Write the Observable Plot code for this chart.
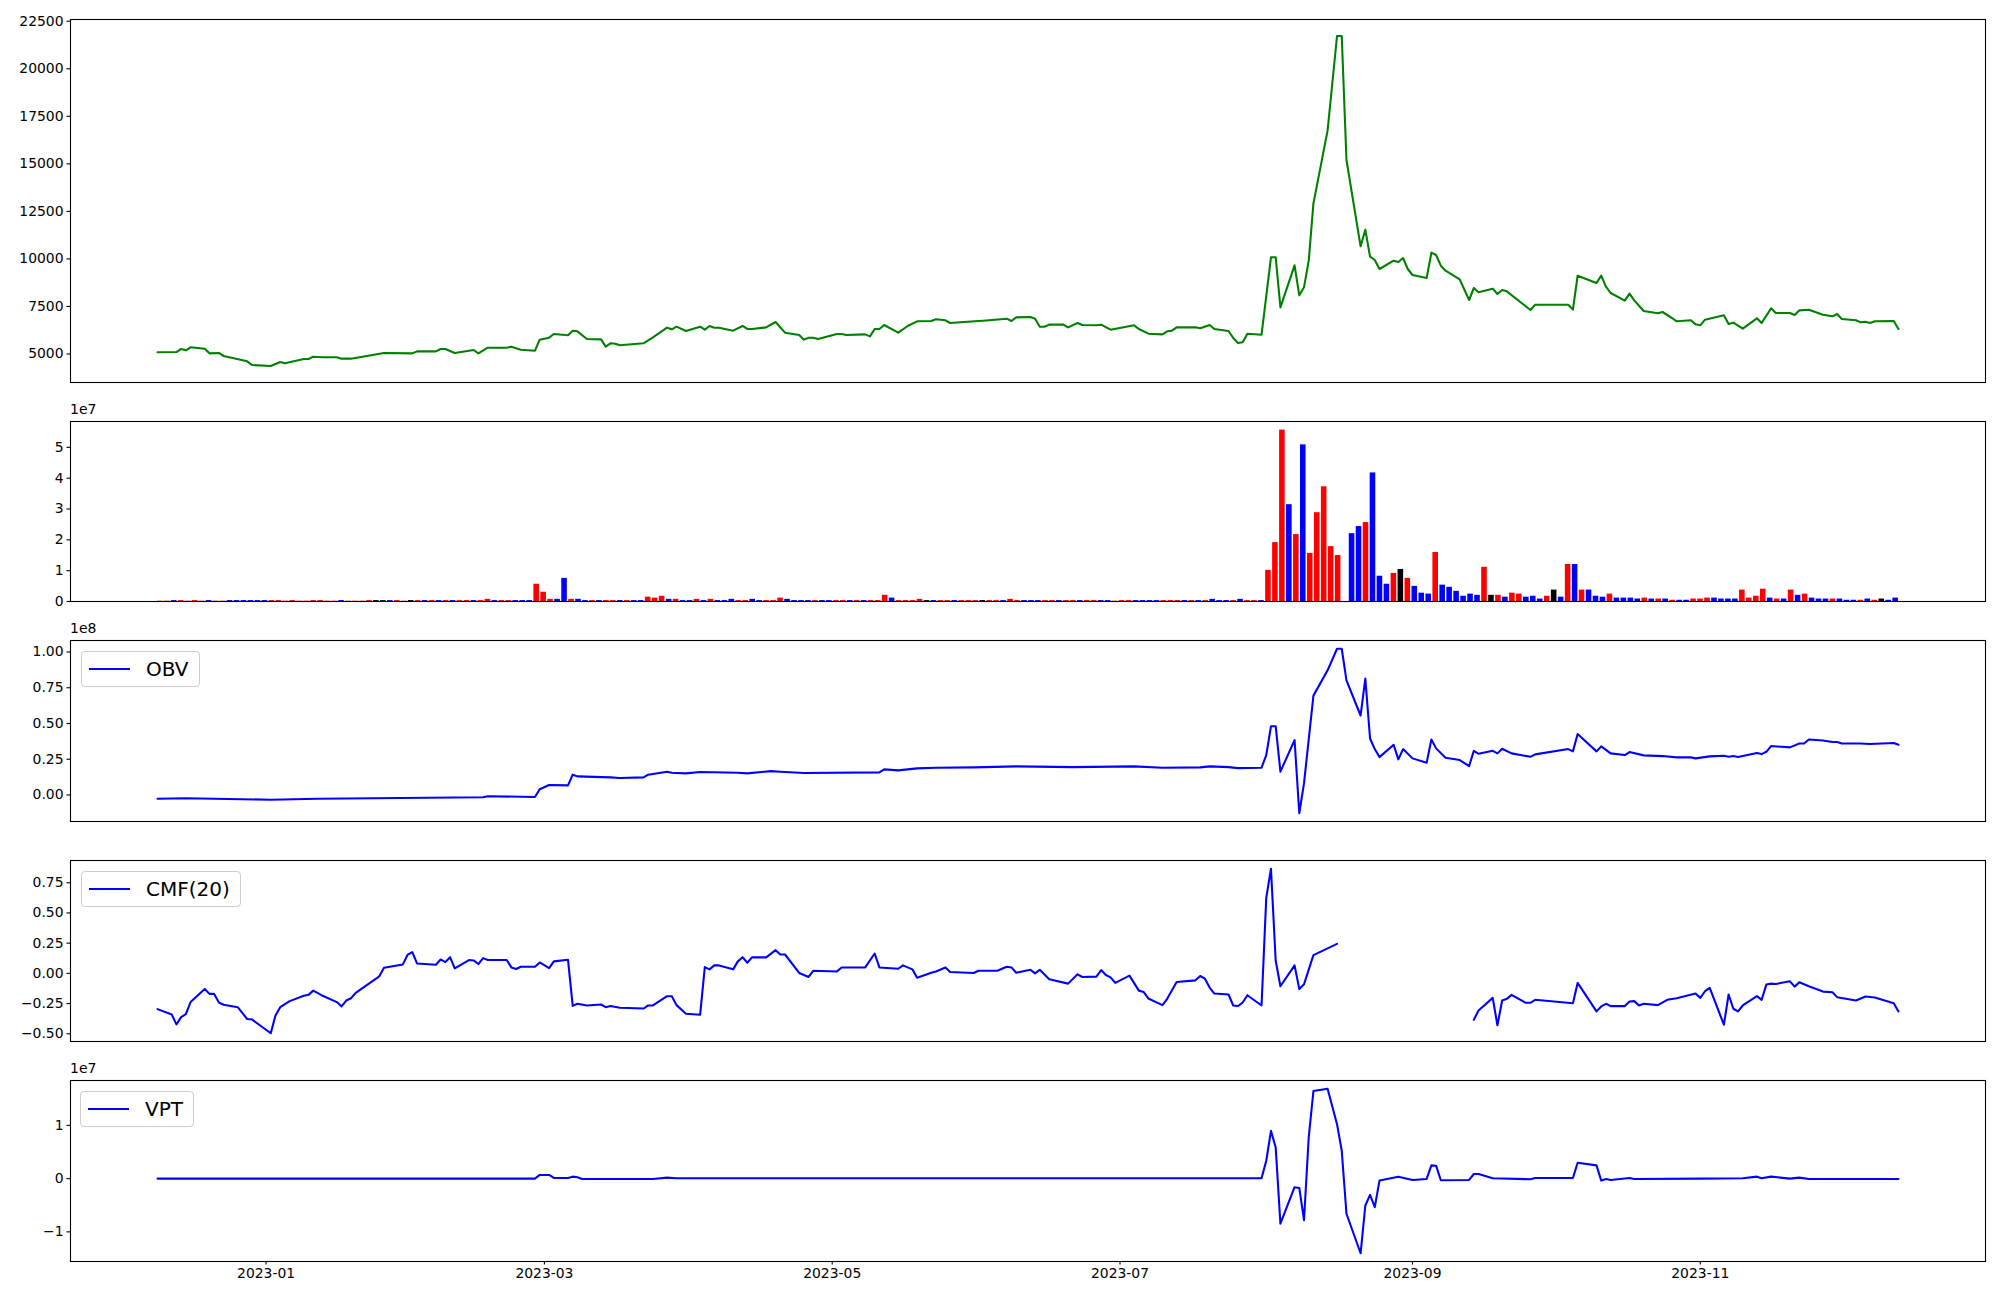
<!DOCTYPE html>
<html><head><meta charset="utf-8">
<script src="https://cdn.jsdelivr.net/npm/d3@7"></script>
<script src="https://cdn.jsdelivr.net/npm/@observablehq/plot@0.6"></script>
<style>
body{margin:0;background:#fff;}
#fig{position:relative;width:2000px;height:1300px;background:#fff;font-family:"DejaVu Sans",sans-serif;overflow:hidden;}
.panel{position:absolute;left:0;}
.legend{position:absolute;box-sizing:border-box;border:1px solid #cccccc;border-radius:4px;background:rgba(255,255,255,0.8);display:flex;align-items:center;height:36px;padding-right:10px;font-size:20px;color:#000;}
.legend svg{margin-left:6px;margin-right:15px;}
.offset{position:absolute;font-size:14px;line-height:14px;left:70px;color:#000;}
</style></head><body><div id="fig"></div><script>
// ---------------- data ----------------
// daily volume in units of 1e5 shares, one value per trading day (2022-12-09 .. 2023-12-13),
// drawn by row number like the reference's volume panel
const volume = [
  1,1,3,3,1,3,1,3,1,1,3,3,3,3,3,                                  // 2022-12
  3,3,3,1,3,1,1,3,3,1,1,3,1,1,1,3,3,3,3,3,                        // 2023-01
  1,3,3,3,3,3,3,3,3,3,3,3,7,3,3,3,3,3,3,56,                       // 2023-02
  30,7,7,75,7,7,3,3,3,3,3,3,3,3,3,14,11,17,7,7,3,3,               // 2023-03
  7,3,7,3,3,7,3,3,7,3,3,3,11,7,3,3,3,3,3,3,                       // 2023-04
  3,3,3,3,3,3,3,20,11,3,3,3,7,3,3,3,3,3,3,3,                      // 2023-05
  3,3,3,3,3,7,3,3,3,3,3,3,3,3,3,3,3,3,3,3,1,                      // 2023-06
  3,3,3,3,3,3,3,3,3,3,3,3,3,7,3,3,3,7,3,3,3,                      // 2023-07
  101,191,556,314,217,508,156,288,372,178,149,0,220,243,256,417,82,56,91,104,75,49, // 2023-08
  27,24,159,53,46,33,17,24,20,111,20,20,14,27,24,14,17,8,17,      // 2023-09
  37,14,120,120,37,37,17,14,24,11,11,11,8,11,8,8,8,4,4,           // 2023-10
  4,8,8,11,11,8,8,8,37,11,17,40,11,8,8,37,20,24,11,8,8,8,         // 2023-11
  8,4,4,4,8,4,8,4,11                                              // 2023-12
];
// bar colour per trading day: r = red, b = blue, k = black
const volColor = [
  "rrbrrrrbrrbbbbb", "brrrrrrrrrrbrrrrkkbr", "rkrbrbrbrrbrrbrrbbbr",
  "rrbbrbbrbrrbrbbrrrbrbb", "rbrbbbrrbbrrrbbbbrbb", "rrbrbrrrbrrrrkbrrbrr",
  "rkrrbrrbbbrrbrrbrrbbr", "rrbbbbrrrbrbrbbbrbrrb", "rrrbrbrrrrrrbbrbbbrkrb",
  "bbrbbbbbbrkrbrrbbbr", "kbrbrbbbrbbbbrbrbrb", "brrrbbbbrrrrbrbrbrbbbr", "bbbrbrkbb"
].join("");

const price = [
["2022-12-09",5088],["2022-12-13",5105],["2022-12-14",5263],["2022-12-15",5193],["2022-12-16",5351],["2022-12-19",5280],["2022-12-20",5035],["2022-12-22",5053],["2022-12-23",4895],["2022-12-28",4614],["2022-12-29",4421],
["2023-01-02",4369],["2023-01-04",4579],["2023-01-05",4509],["2023-01-09",4737],["2023-01-10",4737],["2023-01-11",4860],["2023-01-13",4825],["2023-01-16",4825],["2023-01-17",4755],["2023-01-19",4755],["2023-01-26",5053],
["2023-02-01",5035],["2023-02-02",5140],["2023-02-06",5140],["2023-02-07",5263],["2023-02-08",5263],["2023-02-10",5053],["2023-02-14",5210],["2023-02-15",5035],["2023-02-17",5333],["2023-02-21",5333],["2023-02-22",5386],["2023-02-24",5228],["2023-02-27",5175],["2023-02-28",5754],
["2023-03-02",5859],["2023-03-03",6052],["2023-03-06",5982],["2023-03-07",6227],["2023-03-08",6192],["2023-03-10",5789],["2023-03-13",5771],["2023-03-14",5386],["2023-03-15",5561],["2023-03-16",5543],["2023-03-17",5456],["2023-03-22",5561],["2023-03-24",5877],["2023-03-27",6385],["2023-03-28",6297],["2023-03-29",6437],["2023-03-31",6210],
["2023-04-03",6437],["2023-04-04",6280],["2023-04-05",6473],["2023-04-06",6385],["2023-04-07",6385],["2023-04-10",6227],["2023-04-12",6473],["2023-04-13",6315],["2023-04-14",6315],["2023-04-17",6402],["2023-04-19",6683],["2023-04-21",6122],["2023-04-24",5999],["2023-04-25",5754],["2023-04-26",5859],["2023-04-27",5859],["2023-04-28",5789],
["2023-05-02",6052],["2023-05-03",6052],["2023-05-04",5999],["2023-05-08",6034],["2023-05-09",5929],["2023-05-10",6315],["2023-05-11",6315],["2023-05-12",6525],["2023-05-15",6122],["2023-05-17",6473],["2023-05-19",6718],["2023-05-22",6735],["2023-05-23",6823],["2023-05-25",6771],["2023-05-26",6630],
["2023-06-01",6735],["2023-06-02",6753],["2023-06-07",6858],["2023-06-08",6735],["2023-06-09",6928],["2023-06-12",6946],["2023-06-13",6858],["2023-06-14",6437],["2023-06-15",6437],["2023-06-16",6543],["2023-06-19",6543],["2023-06-20",6402],["2023-06-22",6630],["2023-06-23",6525],["2023-06-26",6508],["2023-06-27",6543],["2023-06-29",6280],
["2023-07-04",6508],["2023-07-05",6315],["2023-07-07",6069],["2023-07-10",6034],["2023-07-11",6192],["2023-07-12",6227],["2023-07-13",6402],["2023-07-17",6402],["2023-07-18",6350],["2023-07-20",6525],["2023-07-21",6315],["2023-07-24",6210],["2023-07-25",5841],["2023-07-26",5578],["2023-07-27",5614],["2023-07-28",6069],["2023-07-31",6017],
["2023-08-01",8050],["2023-08-02",10084],["2023-08-03",10084],["2023-08-04",7454],["2023-08-07",9663],["2023-08-08",8085],["2023-08-09",8506],["2023-08-10",9908],["2023-08-11",12924],["2023-08-14",16745],["2023-08-16",21724],["2023-08-17",21724],["2023-08-18",15202],["2023-08-21",10662],["2023-08-22",11539],["2023-08-23",10119],["2023-08-24",9943],["2023-08-25",9470],["2023-08-28",9908],["2023-08-29",9838],["2023-08-30",10049],["2023-08-31",9470],
["2023-09-01",9155],["2023-09-04",8997],["2023-09-05",10329],["2023-09-06",10206],["2023-09-07",9645],["2023-09-08",9383],["2023-09-11",8927],["2023-09-13",7840],["2023-09-14",8471],["2023-09-15",8243],["2023-09-18",8436],["2023-09-19",8155],["2023-09-20",8366],["2023-09-21",8296],["2023-09-26",7314],["2023-09-27",7594],
["2023-10-04",7594],["2023-10-05",7332],["2023-10-06",9120],["2023-10-10",8734],["2023-10-11",9120],["2023-10-12",8541],["2023-10-13",8208],["2023-10-16",7805],["2023-10-17",8173],["2023-10-18",7822],["2023-10-20",7261],["2023-10-23",7139],["2023-10-24",7209],["2023-10-26",6893],["2023-10-27",6718],["2023-10-30",6771],["2023-10-31",6560],
["2023-11-01",6508],["2023-11-02",6806],["2023-11-06",7033],["2023-11-07",6578],["2023-11-08",6648],["2023-11-10",6332],["2023-11-13",6876],["2023-11-14",6630],["2023-11-16",7402],["2023-11-17",7156],["2023-11-20",7156],["2023-11-21",7051],["2023-11-22",7296],["2023-11-24",7331],["2023-11-27",7069],["2023-11-29",6981],["2023-11-30",7104],
["2023-12-01",6841],["2023-12-04",6771],["2023-12-05",6665],["2023-12-06",6700],["2023-12-07",6630],["2023-12-08",6718],["2023-12-12",6735],["2023-12-13",6315]
];

// OBV in units of 1e8
const obv = [
["2022-12-09",-0.026],["2022-12-15",-0.023],["2023-01-02",-0.033],["2023-01-12",-0.026],["2023-02-16",-0.016],["2023-02-17",-0.009],["2023-02-27",-0.014],["2023-02-28",0.040],["2023-03-02",0.070],["2023-03-06",0.067],["2023-03-07",0.142],["2023-03-08",0.130],["2023-03-15",0.123],["2023-03-17",0.119],["2023-03-22",0.123],["2023-03-23",0.142],["2023-03-27",0.163],["2023-03-28",0.156],["2023-03-29",0.154],["2023-03-31",0.151],
["2023-04-03",0.161],["2023-04-11",0.156],["2023-04-13",0.151],["2023-04-18",0.167],["2023-04-20",0.163],["2023-04-25",0.154],["2023-05-11",0.158],["2023-05-12",0.179],["2023-05-15",0.172],["2023-05-19",0.186],["2023-05-23",0.191],["2023-05-31",0.193],["2023-06-09",0.200],["2023-06-21",0.195],["2023-07-04",0.200],["2023-07-10",0.191],["2023-07-18",0.193],["2023-07-20",0.200],["2023-07-24",0.195],["2023-07-26",0.188],["2023-07-31",0.191],
["2023-08-01",0.279],["2023-08-02",0.481],["2023-08-03",0.481],["2023-08-04",0.163],["2023-08-07",0.384],["2023-08-08",-0.128],["2023-08-09",0.081],["2023-08-11",0.695],["2023-08-14",0.872],["2023-08-16",1.023],["2023-08-17",1.023],["2023-08-18",0.802],["2023-08-21",0.556],["2023-08-22",0.814],["2023-08-23",0.395],["2023-08-24",0.321],["2023-08-25",0.265],["2023-08-28",0.351],["2023-08-29",0.249],["2023-08-30",0.321],
["2023-09-01",0.256],["2023-09-04",0.226],["2023-09-05",0.388],["2023-09-06",0.326],["2023-09-08",0.260],["2023-09-11",0.244],["2023-09-13",0.202],["2023-09-14",0.309],["2023-09-15",0.288],["2023-09-18",0.309],["2023-09-19",0.291],["2023-09-20",0.323],["2023-09-22",0.291],["2023-09-26",0.267],["2023-09-27",0.284],
["2023-10-04",0.321],["2023-10-05",0.305],["2023-10-06",0.426],["2023-10-10",0.305],["2023-10-11",0.340],["2023-10-13",0.291],["2023-10-16",0.279],["2023-10-17",0.300],["2023-10-20",0.277],["2023-10-24",0.272],["2023-10-27",0.263],["2023-10-30",0.263],["2023-10-31",0.256],
["2023-11-03",0.270],["2023-11-06",0.274],["2023-11-07",0.267],["2023-11-08",0.272],["2023-11-09",0.265],["2023-11-13",0.293],["2023-11-14",0.286],["2023-11-15",0.302],["2023-11-16",0.342],["2023-11-20",0.333],["2023-11-22",0.360],["2023-11-23",0.360],["2023-11-24",0.388],["2023-11-27",0.381],["2023-11-29",0.370],["2023-11-30",0.370],
["2023-12-01",0.360],["2023-12-05",0.360],["2023-12-07",0.356],["2023-12-12",0.363],["2023-12-13",0.351]
];

// Chaikin money flow (20); NaN marks the undefined stretch
const cmf = [
["2022-12-09",-0.296],["2022-12-12",-0.340],["2022-12-13",-0.422],["2022-12-14",-0.362],["2022-12-15",-0.337],["2022-12-16",-0.238],["2022-12-19",-0.129],["2022-12-20",-0.170],["2022-12-21",-0.170],["2022-12-22",-0.241],["2022-12-23",-0.260],["2022-12-26",-0.280],["2022-12-27",-0.329],["2022-12-28",-0.378],["2022-12-29",-0.381],
["2023-01-02",-0.496],["2023-01-03",-0.348],["2023-01-04",-0.280],["2023-01-06",-0.230],["2023-01-09",-0.186],["2023-01-10",-0.178],["2023-01-11",-0.143],["2023-01-12",-0.164],["2023-01-13",-0.186],["2023-01-16",-0.238],["2023-01-17",-0.274],["2023-01-18",-0.225],["2023-01-19",-0.206],["2023-01-20",-0.162],["2023-01-25",-0.025],["2023-01-26",0.047],["2023-01-30",0.074],["2023-01-31",0.154],
["2023-02-01",0.175],["2023-02-02",0.082],["2023-02-06",0.071],["2023-02-07",0.115],["2023-02-08",0.093],["2023-02-09",0.134],["2023-02-10",0.041],["2023-02-13",0.110],["2023-02-14",0.107],["2023-02-15",0.077],["2023-02-16",0.126],["2023-02-17",0.110],["2023-02-21",0.110],["2023-02-22",0.049],["2023-02-23",0.036],["2023-02-24",0.055],["2023-02-27",0.055],["2023-02-28",0.090],
["2023-03-02",0.044],["2023-03-03",0.099],["2023-03-06",0.112],["2023-03-07",-0.269],["2023-03-08",-0.252],["2023-03-10",-0.266],["2023-03-13",-0.258],["2023-03-14",-0.280],["2023-03-15",-0.271],["2023-03-17",-0.285],["2023-03-22",-0.291],["2023-03-23",-0.266],["2023-03-24",-0.266],["2023-03-27",-0.189],["2023-03-28",-0.189],["2023-03-29",-0.263],["2023-03-31",-0.334],
["2023-04-03",-0.343],["2023-04-04",0.052],["2023-04-05",0.033],["2023-04-06",0.066],["2023-04-07",0.066],["2023-04-10",0.033],["2023-04-11",0.099],["2023-04-12",0.134],["2023-04-13",0.088],["2023-04-14",0.132],["2023-04-17",0.132],["2023-04-19",0.192],["2023-04-20",0.156],["2023-04-21",0.156],["2023-04-24",0.003],["2023-04-26",-0.030],["2023-04-27",0.022],
["2023-05-02",0.016],["2023-05-03",0.049],["2023-05-08",0.049],["2023-05-10",0.164],["2023-05-11",0.049],["2023-05-15",0.038],["2023-05-16",0.066],["2023-05-18",0.033],["2023-05-19",-0.036],["2023-05-22",0.005],["2023-05-23",0.016],["2023-05-25",0.049],["2023-05-26",0.011],["2023-05-31",0.003],
["2023-06-01",0.022],["2023-06-05",0.022],["2023-06-07",0.055],["2023-06-08",0.049],["2023-06-09",0.005],["2023-06-12",0.030],["2023-06-13",0.000],["2023-06-14",0.030],["2023-06-16",-0.049],["2023-06-20",-0.085],["2023-06-22",-0.008],["2023-06-23",-0.030],["2023-06-26",-0.027],["2023-06-27",0.027],["2023-06-28",-0.014],["2023-06-29",-0.033],["2023-06-30",-0.079],
["2023-07-03",-0.019],["2023-07-05",-0.143],["2023-07-06",-0.154],["2023-07-07",-0.208],["2023-07-10",-0.263],["2023-07-11",-0.211],["2023-07-13",-0.071],["2023-07-17",-0.058],["2023-07-18",-0.022],["2023-07-19",-0.044],["2023-07-20",-0.118],["2023-07-21",-0.167],["2023-07-24",-0.175],["2023-07-25",-0.266],["2023-07-26",-0.271],["2023-07-27",-0.241],["2023-07-28",-0.181],["2023-07-31",-0.266],
["2023-08-01",0.625],["2023-08-02",0.866],["2023-08-03",0.104],["2023-08-04",-0.107],["2023-08-07",0.066],["2023-08-08",-0.129],["2023-08-09",-0.090],["2023-08-11",0.151],["2023-08-16",0.244],
["2023-08-17",NaN],
["2023-09-14",-0.384],["2023-09-15",-0.307],["2023-09-18",-0.203],["2023-09-19",-0.430],["2023-09-20",-0.225],["2023-09-21",-0.211],["2023-09-22",-0.178],["2023-09-25",-0.244],["2023-09-26",-0.244],["2023-09-27",-0.219],
["2023-10-05",-0.247],["2023-10-06",-0.079],["2023-10-10",-0.315],["2023-10-11",-0.274],["2023-10-12",-0.252],["2023-10-13",-0.271],["2023-10-16",-0.271],["2023-10-17",-0.233],["2023-10-18",-0.230],["2023-10-19",-0.266],["2023-10-20",-0.252],["2023-10-23",-0.263],["2023-10-25",-0.219],["2023-10-27",-0.206],["2023-10-31",-0.167],
["2023-11-01",-0.203],["2023-11-02",-0.148],["2023-11-03",-0.121],["2023-11-06",-0.425],["2023-11-07",-0.175],["2023-11-08",-0.293],["2023-11-09",-0.315],["2023-11-10",-0.266],["2023-11-13",-0.189],["2023-11-14",-0.219],["2023-11-15",-0.093],["2023-11-16",-0.085],["2023-11-17",-0.088],["2023-11-20",-0.066],["2023-11-21",-0.110],["2023-11-22",-0.074],["2023-11-24",-0.107],["2023-11-27",-0.151],["2023-11-29",-0.156],["2023-11-30",-0.197],
["2023-12-04",-0.225],["2023-12-06",-0.192],["2023-12-08",-0.200],["2023-12-12",-0.247],["2023-12-13",-0.315]
];

// VPT in units of 1e7
const vpt = [
["2022-12-09",0],["2023-02-27",0],["2023-02-28",0.069],["2023-03-02",0.069],["2023-03-03",0.012],["2023-03-06",0.012],["2023-03-07",0.037],["2023-03-08",0.025],["2023-03-09",-0.006],["2023-03-24",-0.006],["2023-03-27",0.019],["2023-03-29",0.006],["2023-07-31",0.006],
["2023-08-01",0.336],["2023-08-02",0.897],["2023-08-03",0.586],["2023-08-04",-0.847],["2023-08-07",-0.162],["2023-08-08",-0.175],["2023-08-09",-0.779],["2023-08-10",0.773],["2023-08-11",1.645],["2023-08-14",1.688],["2023-08-16",1.022],["2023-08-17",0.523],["2023-08-18",-0.660],["2023-08-21",-1.402],["2023-08-22",-0.505],["2023-08-23",-0.305],["2023-08-24",-0.536],["2023-08-25",-0.037],["2023-08-29",0.037],
["2023-09-01",-0.025],["2023-09-04",-0.006],["2023-09-05",0.249],["2023-09-06",0.243],["2023-09-07",-0.031],["2023-09-13",-0.025],["2023-09-14",0.087],["2023-09-15",0.087],["2023-09-18",0.006],["2023-09-26",-0.012],["2023-09-27",0.012],
["2023-10-05",0.012],["2023-10-06",0.299],["2023-10-10",0.249],["2023-10-11",-0.037],["2023-10-12",-0.006],["2023-10-13",-0.025],["2023-10-17",0.012],["2023-10-18",-0.006],
["2023-11-01",0],["2023-11-10",0.006],["2023-11-13",0.037],["2023-11-14",0.006],["2023-11-16",0.037],["2023-11-20",0],["2023-11-22",0.019],["2023-11-24",-0.006],["2023-12-13",-0.006]
];

const xTickDates = ["2023-01-01","2023-03-01","2023-05-01","2023-07-01","2023-09-01","2023-11-01"];
const priceTicks = [5000,7500,10000,12500,15000,17500,20000,22500];
const volTicks = [0,1,2,3,4,5];
const obvTicks = [0,0.25,0.5,0.75,1];
const cmfTicks = [-0.5,-0.25,0,0.25,0.5,0.75];
const vptTicks = [-1,0,1];

// ---------------- build ----------------
const parse = s => new Date(s + "T00:00:00Z");
const colorName = {r: "#ff0000", b: "#0000ff", k: "#000000"};
const volData = volume.map((v, i) => ({i, v: v / 100, c: colorName[volColor[i]] || "#000"}));
const toRows = arr => arr.map(([d, v]) => ({date: parse(d), v}));
const priceRows = toRows(price), obvRows = toRows(obv), cmfRows = toRows(cmf), vptRows = toRows(vpt);

const allDates = [...priceRows, ...obvRows, ...cmfRows, ...vptRows].map(r => r.date);
const [x0, x1] = d3.extent(allDates);
const xr = x1 - x0;
const xDomain = [new Date(+x0 - 0.05 * xr), new Date(+x1 + 0.05 * xr)];
// bar panel: positions are row numbers, limits as matplotlib's bar autoscale
const bLo = -0.4, bHi = volData.length - 1 + 0.4, bPad = 0.05 * (bHi - bLo);
const barDomain = [bLo - bPad, bHi + bPad];
const padded = rows => {
  const [lo, hi] = d3.extent(rows.filter(r => Number.isFinite(r.v)), r => r.v);
  const p = 0.05 * (hi - lo);
  return [lo - p, hi + p];
};

const fig = document.getElementById("fig");
const style = {fontFamily: "DejaVu Sans", fontSize: "13.9px", color: "#000", background: "white", overflow: "visible"};

function panel({top, height, mt, mb, x, yDomain, yTicks, yFormat, marks, showX}) {
  const p = Plot.plot({
    width: 2000, height,
    marginLeft: 70, marginRight: 15, marginTop: mt, marginBottom: mb,
    x: x || {type: "utc", domain: xDomain, axis: showX ? undefined : null},
    y: {domain: yDomain},
    color: {type: "identity"},
    style,
    marks: [
      ...marks,
      Plot.axisY({ticks: yTicks, tickFormat: yFormat, tickSize: 3.5, tickPadding: 3.5, label: null, strokeWidth: 1.1}),
      showX ? Plot.axisX({ticks: xTickDates.map(parse), tickFormat: d3.utcFormat("%Y-%m"), tickSize: 3.5, tickPadding: 3.5, label: null, strokeWidth: 1.1}) : null,
      Plot.frame({stroke: "black", strokeWidth: 1.1})
    ]
  });
  p.classList.add("panel");
  p.style.top = top + "px";
  fig.appendChild(p);
}

const lw = 2.08;
panel({top: 0, height: 400, mt: 19, mb: 18, yDomain: padded(priceRows), yTicks: priceTicks, yFormat: d3.format("d"),
  marks: [Plot.line(priceRows, {x: "date", y: "v", stroke: "#008000", strokeWidth: lw})]});

panel({top: 400, height: 220, mt: 21, mb: 19, x: {type: "linear", domain: barDomain, axis: null},
  yDomain: [0, d3.max(volData, d => d.v) * 1.05], yTicks: volTicks, yFormat: d3.format("d"),
  marks: [Plot.rect(volData, {x1: d => d.i - 0.4, x2: d => d.i + 0.4, y1: 0, y2: "v", fill: "c"})]});

panel({top: 620, height: 220, mt: 20, mb: 19, yDomain: padded(obvRows), yTicks: obvTicks, yFormat: d3.format(".2f"),
  marks: [Plot.line(obvRows, {x: "date", y: "v", stroke: "#0000ff", strokeWidth: lw})]});

panel({top: 840, height: 220, mt: 20, mb: 19, yDomain: padded(cmfRows), yTicks: cmfTicks, yFormat: d3.format(".2f"),
  marks: [Plot.line(cmfRows, {x: "date", y: "v", stroke: "#0000ff", strokeWidth: lw})]});

panel({top: 1060, height: 240, mt: 20, mb: 39, yDomain: padded(vptRows), yTicks: vptTicks, yFormat: d3.format("d"),
  marks: [Plot.line(vptRows, {x: "date", y: "v", stroke: "#0000ff", strokeWidth: lw})], showX: true});

// offset texts
[["1e7", 402], ["1e8", 621], ["1e7", 1061]].forEach(([t, y]) => {
  const s = document.createElement("div");
  s.className = "offset"; s.textContent = t; s.style.top = y + "px";
  fig.appendChild(s);
});
// legends
[["OBV", 81, 651], ["CMF(20)", 81, 871], ["VPT", 80, 1091]].forEach(([t, x, y]) => {
  const L = document.createElement("div");
  L.className = "legend"; L.style.left = x + "px"; L.style.top = y + "px";
  L.innerHTML = `<svg width="43" height="6"><line x1="1" y1="3" x2="42" y2="3" stroke="#0000ff" stroke-width="2.08"/></svg><span>${t}</span>`;
  fig.appendChild(L);
});
</script></body></html>
